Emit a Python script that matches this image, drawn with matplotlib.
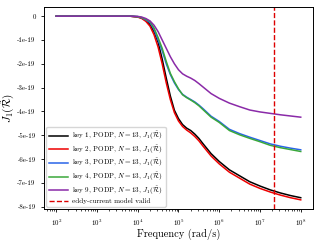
import numpy as np
import matplotlib
matplotlib.use("Agg")
import matplotlib.pyplot as plt

plt.rcParams['font.family'] = ['cmr10', 'DejaVu Serif']
plt.rcParams['mathtext.fontset'] = 'cm'
plt.rcParams['axes.formatter.use_mathtext'] = True

freq_exp = [2, 3, 3.5, 3.8, 4.0, 4.1, 4.2, 4.3, 4.4, 4.5, 4.6, 4.7, 4.8, 4.9, 5.0,
            5.1, 5.2, 5.3, 5.4, 5.5, 5.6, 5.8, 6.0, 6.25, 6.5, 6.75, 7.0, 7.25, 7.5, 7.75, 8.0]

key1 = [0, 0, 0, 0, -0.03, -0.08, -0.18, -0.35, -0.65, -1.1, -1.8, -2.6, -3.35, -3.95, -4.3,
        -4.55, -4.7, -4.8, -4.95, -5.13, -5.35, -5.77, -6.1, -6.45, -6.7, -6.95, -7.13, -7.29, -7.42, -7.53, -7.62]
key2 = [0, 0, 0, 0, -0.04, -0.1, -0.22, -0.42, -0.78, -1.3, -2.0, -2.8, -3.5, -4.05, -4.4,
        -4.63, -4.78, -4.9, -5.05, -5.23, -5.45, -5.87, -6.2, -6.55, -6.8, -7.05, -7.23, -7.38, -7.51, -7.62, -7.71]
key3 = [0, 0, 0, 0, -0.02, -0.07, -0.16, -0.26, -0.56, -1.0, -1.45, -2.0, -2.45, -2.8, -3.08,
        -3.28, -3.4, -3.5, -3.6, -3.73, -3.88, -4.2, -4.42, -4.75, -4.93, -5.08, -5.22, -5.36, -5.46, -5.54, -5.61]
key4 = [0, 0, 0, 0, -0.02, -0.06, -0.14, -0.22, -0.5, -0.9, -1.35, -1.9, -2.4, -2.75, -3.05,
        -3.3, -3.42, -3.52, -3.63, -3.76, -3.92, -4.24, -4.46, -4.8, -4.98, -5.13, -5.27, -5.42, -5.52, -5.6, -5.68]
key9 = [0, 0, 0, 0, -0.01, -0.04, -0.1, -0.2, -0.38, -0.65, -1.0, -1.35, -1.7, -2.0, -2.25,
        -2.42, -2.52, -2.6, -2.7, -2.83, -2.97, -3.25, -3.45, -3.65, -3.8, -3.94, -4.02, -4.08, -4.14, -4.19, -4.24]

labels = [r"key 1, PODP, $N=13$, $J_1(\tilde{\mathcal{R}})$",
          r"key 2, PODP, $N=13$, $J_1(\tilde{\mathcal{R}})$",
          r"key 3, PODP, $N=13$, $J_1(\tilde{\mathcal{R}})$",
          r"key 4, PODP, $N=13$, $J_1(\tilde{\mathcal{R}})$",
          r"key 9, PODP, $N=13$, $J_1(\tilde{\mathcal{R}})$"]
colors = ["black", "#ee0000", "#2a64e8", "#3aa83a", "#8a2aa8"]
eddy_limit = 2.2e7

yticks = [0, -1, -2, -3, -4, -5, -6, -7, -8]
ytick_labels = ["0", "-1e-19", "-2e-19", "-3e-19", "-4e-19", "-5e-19", "-6e-19", "-7e-19", "-8e-19"]

freq = 10.0 ** np.array(freq_exp)

fig = plt.figure(figsize=(3.2, 2.4), dpi=100)
ax = fig.add_axes([0.1375, 0.129, 0.8405, 0.842])
for vals, lab, c in zip([key1, key2, key3, key4, key9], labels, colors):
    ax.plot(freq, np.array(vals) * 1e-19, color=c, lw=1.1, label=lab)
ax.axvline(eddy_limit, color="#dd0000", ls="--", lw=1.0, label="eddy-current model valid")
ax.set_xscale("log")
ax.set_yticks(np.array(yticks) * 1e-19)
ax.set_yticklabels(ytick_labels)
ax.tick_params(labelsize=5, length=2.5, width=0.6)
ax.tick_params(which="minor", length=1.5, width=0.5)
ax.set_xlabel("Frequency (rad/s)", fontsize=7.5, labelpad=1)
ax.set_ylabel(r"$J_1(\tilde{\mathcal{R}})$", fontsize=8, labelpad=0)
for s in ax.spines.values():
    s.set_linewidth(0.7)
ax.legend(loc="lower left", fontsize=5.1, handlelength=2.7, labelspacing=0.2,
          borderpad=0.4, handletextpad=0.6, frameon=True, framealpha=0.8,
          borderaxespad=0.3)
fig.savefig("out.png", dpi=100)
